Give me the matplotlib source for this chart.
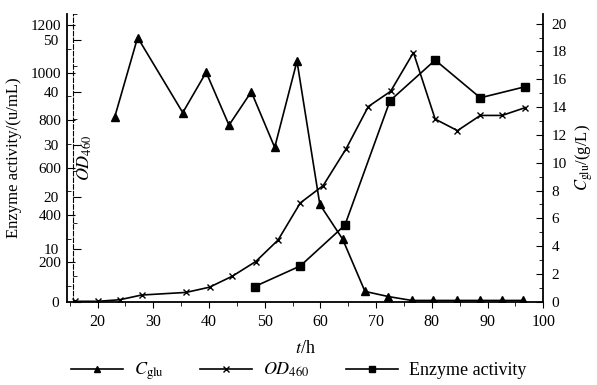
import matplotlib.pyplot as plt
from matplotlib.ticker import MultipleLocator

# time points (h) and values
t_glu = [23.1, 27.2, 35.3, 39.5, 43.6, 47.6, 51.8, 55.8, 59.9, 64.0, 68.0, 72.2,
         76.4, 80.2, 84.5, 88.7, 92.6, 96.4]
c_glu = [13.3, 19.0, 13.6, 16.5, 12.7, 15.1, 11.1, 17.3, 7.0, 4.5, 0.75, 0.38,
         0.1, 0.1, 0.1, 0.1, 0.1, 0.1]

t_od = [16.0, 20.0, 24.0, 27.9, 35.9, 40.1, 44.2, 48.4, 52.4, 56.4, 60.5, 64.6,
        68.6, 72.6, 76.7, 80.6, 84.6, 88.7, 92.6, 96.8]
od460 = [0.1, 0.1, 0.4, 1.3, 1.8, 2.8, 4.9, 7.7, 11.8, 18.9, 22.2, 29.2,
         37.3, 40.2, 47.6, 34.9, 32.7, 35.6, 35.6, 37.1]

t_enz = [48.2, 56.4, 64.4, 72.5, 80.6, 88.7, 96.8]
enzyme = [98, 185, 357, 882, 1053, 894, 941]

plt.rcParams['font.family'] = ['Liberation Serif', 'DejaVu Serif']
plt.rcParams['mathtext.fontset'] = 'stix'
plt.rcParams['font.size'] = 12
plt.rcParams['xtick.labelsize'] = 11.5
plt.rcParams['ytick.labelsize'] = 11

fig = plt.figure(figsize=(5.97, 3.85), dpi=100)
ax = fig.add_axes([0.112, 0.216, 0.798, 0.748])
ax_od = ax.twinx()
ax_glu = ax.twinx()

# enzyme activity (outer left axis) - its zero sits a little below the time axis
ax.set_xlim(14.5, 100)
ax.set_ylim(33.6, 1248)
ax.set_xticks(range(20, 101, 10))
ax.xaxis.set_minor_locator(MultipleLocator(5))
ax.set_yticks(range(200, 1201, 200))
ax.yaxis.set_minor_locator(MultipleLocator(100))
ax.tick_params(axis='y', which='both', direction='in', pad=4)
ax.tick_params(axis='y', which='major', length=6)
ax.tick_params(axis='y', which='minor', length=3)
ax.tick_params(axis='x', which='both', direction='out')
ax.tick_params(axis='x', which='major', length=4, pad=5)
ax.tick_params(axis='x', which='minor', length=3)
ax.spines['top'].set_visible(False)
ax.spines['right'].set_visible(False)
ax.spines['left'].set_linewidth(1.3)
ax.spines['bottom'].set_linewidth(1.3)
ax.set_xlabel(r'$t$/h', labelpad=7, fontsize=13)
ax.set_ylabel('Enzyme activity/(u/mL)', labelpad=6)
l_enz, = ax.plot(t_enz, enzyme, color='black', lw=1.2, marker='s', ms=6)

# OD460 (inner left axis)
ax_od.set_ylim(0, 55)
ax_od.yaxis.set_ticks_position('left')
ax_od.yaxis.set_label_position('left')
ax_od.spines['left'].set_position(('axes', 0.012))
ax_od.spines['left'].set_linestyle((0, (4, 2)))
ax_od.spines['left'].set_linewidth(0.8)
for s in ['top', 'right', 'bottom']:
    ax_od.spines[s].set_visible(False)
ax_od.set_yticks([0, 10, 20, 30, 40, 50])
ax_od.yaxis.set_minor_locator(MultipleLocator(5))
ax_od.tick_params(axis='y', which='both', direction='in', pad=10)
ax_od.tick_params(axis='y', which='major', length=6)
ax_od.tick_params(axis='y', which='minor', length=3)
ax_od.set_ylabel(r'$OD_{460}$', fontsize=13)
ax_od.yaxis.set_label_coords(0.058, 0.5)
l_od, = ax_od.plot(t_od, od460, color='black', lw=1.2, marker='x', ms=5, mew=1.0)

# glucose (right axis)
ax_glu.set_ylim(0, 20.7)
ax_glu.yaxis.set_major_locator(MultipleLocator(2))
ax_glu.yaxis.set_minor_locator(MultipleLocator(1))
ax_glu.tick_params(axis='y', which='both', direction='in', pad=6)
ax_glu.tick_params(axis='y', which='major', length=5)
ax_glu.tick_params(axis='y', which='minor', length=3)
for s in ['top', 'left', 'bottom']:
    ax_glu.spines[s].set_visible(False)
ax_glu.spines['right'].set_linewidth(1.3)
ax_glu.set_ylabel(r'$C_{\rm glu}$/(g/L)', labelpad=5)
l_glu, = ax_glu.plot(t_glu, c_glu, color='black', lw=1.2, marker='^', ms=5.5)

fig.legend([l_glu, l_od, l_enz],
           [r'$C_{\rm glu}$', r'$OD_{460}$', 'Enzyme activity'],
           loc='lower center', bbox_to_anchor=(0.5, -0.035), ncol=3,
           frameon=False, handlelength=2.9, handletextpad=0.6,
           columnspacing=2.0, fontsize=13, markerscale=0.8)

fig.savefig('out.png', dpi=100)
